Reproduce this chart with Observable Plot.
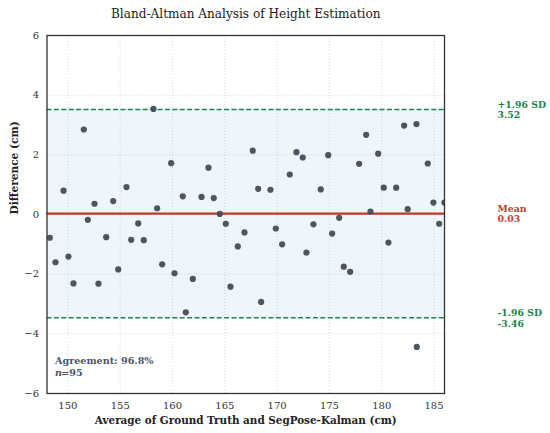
<!DOCTYPE html>
<html>
<head>
<meta charset="utf-8">
<script src="https://cdn.jsdelivr.net/npm/d3@7"></script>
<script src="https://cdn.jsdelivr.net/npm/@observablehq/plot@0.6"></script>
<style>
  html, body { margin: 0; padding: 0; background: white; }
</style>
</head>
<body>
<div id="chart"></div>
<script>
// Average of ground truth and estimate (cm)
const avgValues = [
  148.27, 148.81, 149.58, 150.05, 150.53, 151.52, 151.90, 152.54, 152.92, 153.66,
  154.33, 154.81, 155.60, 156.05, 156.72, 157.25, 158.18, 158.53, 159.01, 159.87,
  160.19, 160.98, 161.27, 161.94, 162.77, 163.44, 163.94, 164.52, 165.09, 165.54,
  166.24, 166.88, 167.67, 168.19, 168.47, 169.36, 169.87, 170.48, 171.21, 171.85,
  172.45, 172.80, 173.47, 174.17, 174.88, 175.26, 175.93, 176.37, 176.98, 177.84,
  178.51, 178.92, 179.66, 180.19, 180.64, 181.38, 182.14, 182.48, 183.32, 183.35,
  184.40, 184.94, 185.49, 185.99
];
// Difference (cm)
const diffValues = [
  -0.78, -1.60, 0.80, -1.41, -2.31, 2.85, -0.18, 0.36, -2.32, -0.76,
  0.45, -1.84, 0.92, -0.85, -0.30, -0.86, 3.54, 0.21, -1.67, 1.72,
  -1.97, 0.61, -3.28, -2.16, 0.59, 1.57, 0.55, 0.02, -0.31, -2.42,
  -1.07, -0.60, 2.14, 0.86, -2.93, 0.83, -0.47, -1.00, 1.34, 2.09,
  1.91, -1.28, -0.33, 0.84, 1.99, -0.64, -0.11, -1.75, -1.92, 1.70,
  2.67, 0.10, 2.04, 0.90, -0.94, 0.90, 2.98, 0.18, 3.03, -4.44,
  1.71, 0.40, -0.31, 0.40
];
const meanDiff = 0.03;
const upperLoA = 3.52;
const lowerLoA = -3.46;
const agreementText = "Agreement: 96.8%";
const nText = "=95";
const xTicks = [150, 155, 160, 165, 170, 175, 180, 185];
const yTicks = [-6, -4, -2, 0, 2, 4, 6];
const xDomain = [148, 186];
const yDomain = [-6, 6];

const points = avgValues.map((a, i) => ({avg: a, diff: diffValues[i]}));
const rightLabels = [
  {y: upperLoA, text: "+1.96 SD\n" + upperLoA.toFixed(2), color: "#1e8449"},
  {y: meanDiff, text: "Mean\n" + meanDiff.toFixed(2), color: "#c0392b"},
  {y: lowerLoA, text: "-1.96 SD\n" + lowerLoA.toFixed(2), color: "#1e8449"}
];

const chart = Plot.plot({
  width: 550,
  height: 433,
  marginLeft: 46.5,
  marginRight: 106,
  marginTop: 35,
  marginBottom: 40,
  style: {fontFamily: "DejaVu Serif", fontSize: "10px", background: "white", color: "#333"},
  x: {domain: xDomain, ticks: xTicks, tickSize: 0, tickPadding: 8, label: null, tickFormat: d => String(d)},
  y: {domain: yDomain, ticks: yTicks, tickSize: 0, tickPadding: 8, label: null,
      tickFormat: d => (d < 0 ? "\u2212" + Math.abs(d) : String(d))},
  marks: [
    Plot.rectY([0], {y1: lowerLoA, y2: upperLoA, fill: "#eef5fb"}),
    Plot.gridX(xTicks, {stroke: "#bbb", strokeOpacity: 0.55, strokeDasharray: "1,2"}),
    Plot.gridY(yTicks, {stroke: "#bbb", strokeOpacity: 0.55, strokeDasharray: "1,2"}),
    Plot.ruleY([upperLoA, lowerLoA], {stroke: "#1e8449", strokeWidth: 1.5, strokeDasharray: "5,2.4"}),
    Plot.ruleY([meanDiff], {stroke: "#c0392b", strokeWidth: 2.3}),
    Plot.dot(points, {x: "avg", y: "diff", r: 3.1, fill: "#454c56", fillOpacity: 0.95, clip: true}),
    Plot.frame({stroke: "#333", strokeWidth: 1.3}),
    Plot.text(rightLabels, {x: xDomain[1], y: "y", text: "text", fill: "color", dx: 53,
      textAnchor: "start", lineAnchor: "middle", fontWeight: "bold", fontSize: 9.3, lineHeight: 1.15}),
    Plot.text([agreementText], {frameAnchor: "bottom-left", dx: 8, dy: -33, textAnchor: "start",
      lineAnchor: "middle", fontWeight: "bold", fontSize: 9.6, fill: "#4a5568"}),
    Plot.text(["n"], {frameAnchor: "bottom-left", dx: 8, dy: -21, textAnchor: "start",
      lineAnchor: "middle", fontWeight: "bold", fontStyle: "italic", fontSize: 9.6, fill: "#4a5568"}),
    Plot.text([nText], {frameAnchor: "bottom-left", dx: 14.3, dy: -21, textAnchor: "start",
      lineAnchor: "middle", fontWeight: "bold", fontSize: 9.6, fill: "#4a5568"}),
    Plot.text(["Bland-Altman Analysis of Height Estimation"], {frameAnchor: "top", dy: -21,
      lineAnchor: "middle", fontSize: 12.1, fill: "#222"}),
    Plot.text(["Average of Ground Truth and SegPose-Kalman (cm)"], {frameAnchor: "bottom", dy: 27,
      lineAnchor: "middle", fontWeight: "bold", fontSize: 10.4, fill: "#222"}),
    Plot.text(["Difference (cm)"], {frameAnchor: "left", dx: -32, rotate: -90,
      lineAnchor: "middle", fontWeight: "bold", fontSize: 10.6, fill: "#222"})
  ]
});
document.getElementById("chart").appendChild(chart);
</script>
</body>
</html>
